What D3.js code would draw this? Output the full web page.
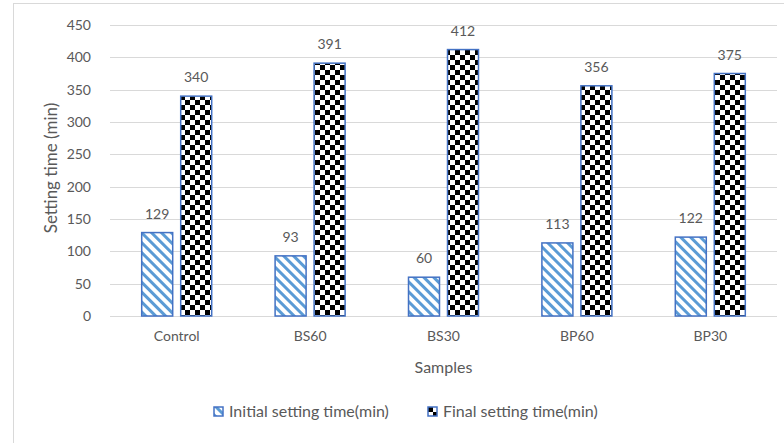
<!DOCTYPE html>
<html>
<head>
<meta charset="utf-8">
<script src="https://cdn.jsdelivr.net/npm/d3@7"></script>
<style>
  body { margin: 0; background: #fff; }
  text { font-family: Lato, "Open Sans", sans-serif; fill: #595959; }
</style>
</head>
<body>
<div id="chart"></div>
<script>
'use strict';

const samples = ['Control', 'BS60', 'BS30', 'BP60', 'BP30'];
const initialTime = [129, 93, 60, 113, 122];
const finalTime = [340, 391, 412, 356, 375];
const seriesNames = ['Initial setting time(min)', 'Final setting time(min)'];
const yTicks = [0, 50, 100, 150, 200, 250, 300, 350, 400, 450];

const svgWidth = 784, svgHeight = 443;
const margin = {top: 25, right: 7, bottom: 127, left: 110};
const width = svgWidth - margin.left - margin.right;
const height = svgHeight - margin.top - margin.bottom;

const svg = d3.select('#chart')
  .append('svg')
    .attr('width', svgWidth)
    .attr('height', svgHeight);

// patterns for the two series
const defs = svg.append('defs');
const stripes = defs.append('pattern')
  .attr('id', 'stripes')
  .attr('patternUnits', 'userSpaceOnUse')
  .attr('width', 7).attr('height', 7)
  .attr('patternTransform', 'rotate(-45)');
stripes.append('rect').attr('width', 7).attr('height', 7).attr('fill', '#fff');
stripes.append('rect').attr('width', 3).attr('height', 7).attr('fill', '#5b9bd5');

const cell = 5;
const checks = defs.append('pattern')
  .attr('id', 'checks')
  .attr('patternUnits', 'userSpaceOnUse')
  .attr('width', cell * 2).attr('height', cell * 2);
checks.append('rect').attr('width', cell * 2).attr('height', cell * 2).attr('fill', '#fff');
checks.append('rect').attr('width', cell).attr('height', cell).attr('fill', '#000');
checks.append('rect').attr('x', cell).attr('y', cell).attr('width', cell).attr('height', cell).attr('fill', '#000');

// outer frame
svg.append('rect')
  .attr('x', 13.5).attr('y', 3.5)
  .attr('width', 800).attr('height', 460)
  .attr('fill', 'none')
  .attr('stroke', '#d9d9d9');

const g = svg.append('g')
  .attr('transform', `translate(${margin.left}, ${margin.top})`);

const x = d3.scaleBand().domain(samples).range([0, width]);
const y = d3.scaleLinear().domain([0, 450]).range([height, 0]);

const barW = 31, gap = 8;
const offsets = [-(barW + gap / 2), gap / 2];

// gridlines
g.selectAll('.grid')
  .data(yTicks)
  .enter()
  .append('line')
    .attr('x1', 0).attr('x2', width)
    .attr('y1', d => Math.round(y(d)) + 0.5)
    .attr('y2', d => Math.round(y(d)) + 0.5)
    .attr('stroke', '#d9d9d9');

// y axis
const yAxis = g.append('g')
  .call(d3.axisLeft(y).tickValues(yTicks).tickSize(0).tickPadding(19));
yAxis.select('.domain').remove();
yAxis.selectAll('text').style('font-size', '14px').attr('fill', '#595959');

// x axis
const xAxis = g.append('g')
  .attr('transform', `translate(0, ${height})`)
  .call(d3.axisBottom(x).tickSize(0).tickPadding(15));
xAxis.select('.domain').remove();
xAxis.selectAll('text').style('font-size', '14px').attr('fill', '#595959');

const series = [
  {name: seriesNames[0], values: initialTime, fill: 'url(#stripes)'},
  {name: seriesNames[1], values: finalTime, fill: 'url(#checks)'}
];

series.forEach((s, si) => {
  const data = samples.map((c, i) => ({cat: c, value: s.values[i]}));
  g.selectAll('.bar' + si)
    .data(data)
    .enter()
    .append('rect')
      .attr('x', d => x(d.cat) + x.bandwidth() / 2 + offsets[si])
      .attr('y', d => y(d.value))
      .attr('width', barW)
      .attr('height', d => height - y(d.value))
      .attr('fill', s.fill)
      .attr('stroke', '#4472c4')
      .attr('stroke-width', 1.5);
  g.selectAll('.label' + si)
    .data(data)
    .enter()
    .append('text')
      .attr('x', d => x(d.cat) + x.bandwidth() / 2 + offsets[si] + barW / 2)
      .attr('y', d => y(d.value) - 14)
      .attr('text-anchor', 'middle')
      .style('font-size', '14px')
      .text(d => d.value);
});

// axis titles
svg.append('text')
  .attr('transform', 'translate(57, 168) rotate(-90)')
  .attr('text-anchor', 'middle')
  .style('font-size', '17px')
  .text('Setting time (min)');

svg.append('text')
  .attr('x', margin.left + width / 2)
  .attr('y', 373)
  .attr('text-anchor', 'middle')
  .style('font-size', '16px')
  .text('Samples');

// legend
const legendX = [214, 428];
series.forEach((s, si) => {
  const lg = svg.append('g').attr('transform', `translate(${legendX[si]}, 407)`);
  lg.append('rect')
    .attr('width', 9).attr('height', 9)
    .attr('fill', s.fill)
    .attr('stroke', '#4472c4')
    .attr('stroke-width', 1.5);
  lg.append('text')
    .attr('x', 15).attr('y', 10)
    .style('font-size', '16px')
    .text(s.name);
});
</script>
</body>
</html>
